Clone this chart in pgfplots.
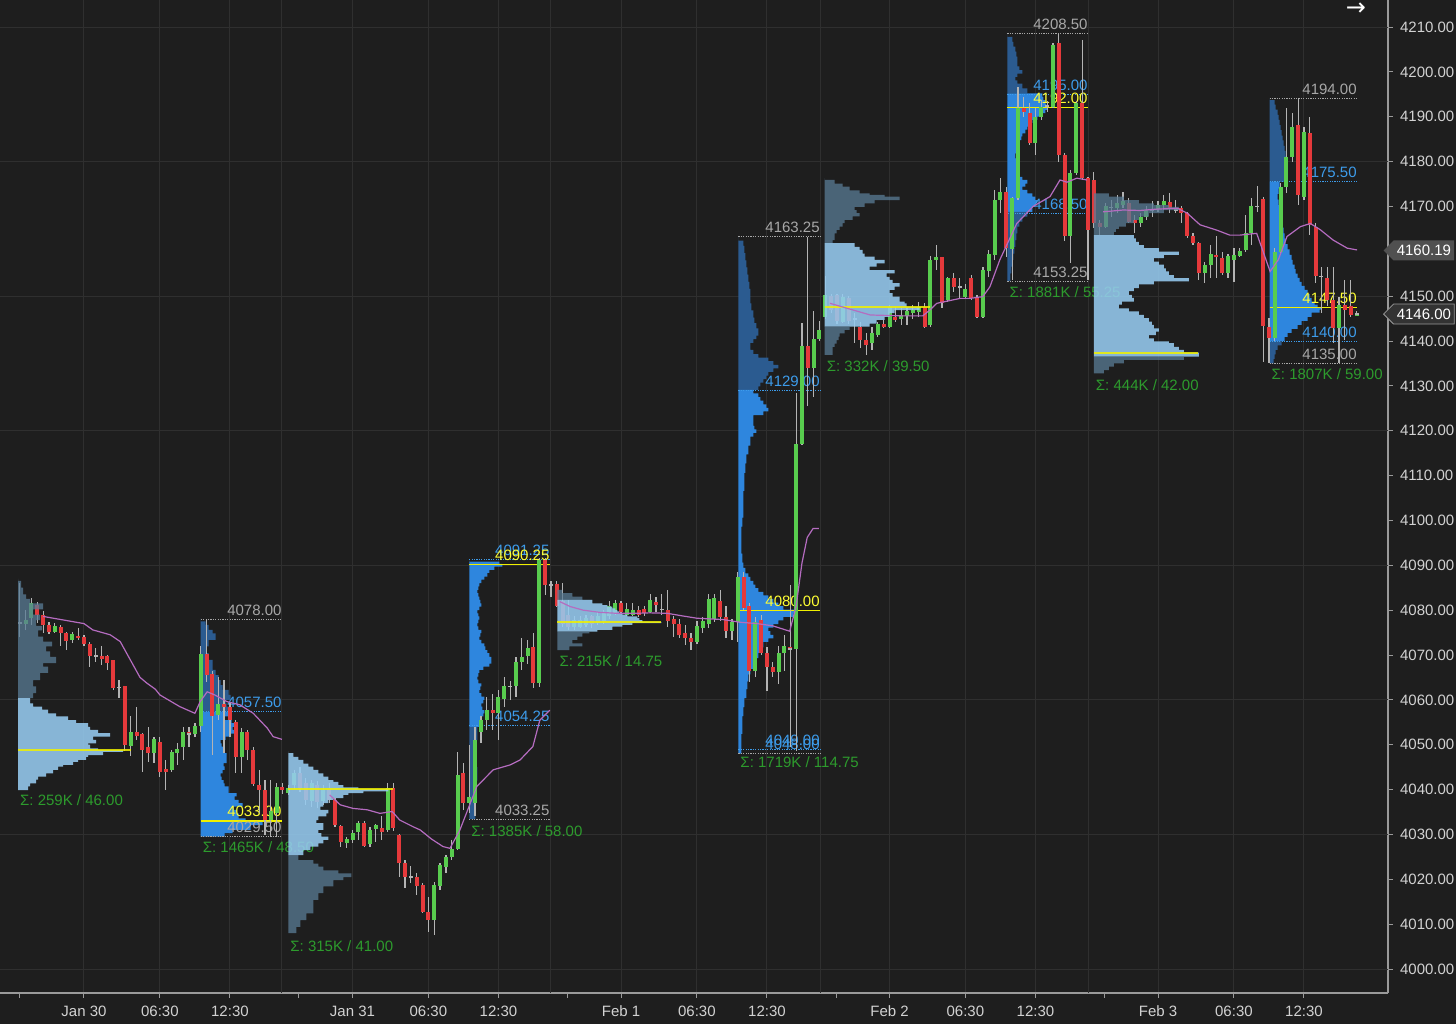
\documentclass[border=0pt]{standalone}
\usepackage{fontspec}
\setmainfont{Liberation Sans}
\newfontfamily\djv{DejaVu Sans}
\usepackage{pgfplots}
\pgfplotsset{compat=1.18}
\usepackage{pgfplotstable}
\usetikzlibrary{shapes.symbols}

\definecolor{bg}{HTML}{1E1E1E}
\definecolor{gridc}{HTML}{2F2F2F}
\definecolor{axisc}{HTML}{9A9A9A}
\definecolor{tickl}{HTML}{D2D2D2}
\definecolor{upc}{HTML}{58CC4E}
\definecolor{dnc}{HTML}{E5393B}
\definecolor{wickc}{HTML}{B4B4B4}
\definecolor{vwapc}{HTML}{B56CC0}
\definecolor{ethlight}{HTML}{96CBF0}
\definecolor{ethgray}{HTML}{5A7C96}
\definecolor{rthb}{HTML}{2E86DE}
\definecolor{rthd}{HTML}{2B5B90}
\definecolor{pocc}{HTML}{F0F000}
\definecolor{labblue}{HTML}{3D9CEB}
\definecolor{labgray}{HTML}{A8A8A8}
\definecolor{labyel}{HTML}{FFFF33}
\definecolor{sigc}{HTML}{2D9B2D}
\definecolor{mk1}{HTML}{505050}
\definecolor{mk2}{HTML}{333333}

\newcommand{\lab}{\fontsize{7.5}{9}\selectfont}
\newcommand{\prof}[3]{\addplot[#2] table[row sep=\\, x expr={#1+\thisrow{w}/5.837}, y=p] {p w\\ #3};}
\newcommand{\rlab}[4]{\node[anchor=base east, inner sep=0pt, yshift=2pt, text=#3, font=\lab] at (axis cs:#1,#2) {#4};}
\newcommand{\hl}[4]{\addplot[#4, line width=0.5pt, dash pattern=on 0.6pt off 0.6pt, forget plot] coordinates {(#1,#3) (#2,#3)};}
\newcommand{\slab}[3]{\node[anchor=west, inner sep=0pt, text=sigc, font=\lab] at (axis cs:#1,#2) {#3};}

\pgfplotsset{
  ethL/.style={fill=ethlight, fill opacity=0.88, draw=none, const plot mark left, forget plot},
  ethG/.style={fill=ethgray, fill opacity=0.75, draw=none, const plot mark left, forget plot},
  rthB/.style={fill=rthb, draw=none, const plot mark left, forget plot},
  rthD/.style={fill=rthd, draw=none, const plot mark left, forget plot},
}

\pgfplotstableread{
x o h l c
-11 4077.2 4086 4074 4077.2
-10 4076.9 4080 4075.6 4077.8
-9 4078.2 4082.6 4076.7 4081.5
-8 4081.2 4081.9 4077.1 4079.0
-7 4079.0 4079.7 4074.8 4076.7
-6 4076.8 4077.4 4074.7 4075.2
-5 4075.2 4077.1 4074.8 4076.5
-4 4076.3 4076.7 4071.9 4074.8
-3 4074.8 4075.2 4071.1 4073.2
-2 4073.4 4075.2 4072.6 4074.6
-1 4074.3 4076.0 4073.4 4073.7
0 4074.1 4074.5 4071.9 4072.5
1 4072.5 4072.8 4067.4 4069.8
2 4069.8 4071.5 4068.5 4069.8
3 4069.8 4071.9 4067.8 4069.0
4 4069.8 4070.0 4066.7 4068.3
5 4068.8 4068.9 4062.3 4062.6
6 4062.8 4064.4 4060.4 4062.8
7 4063.0 4063.2 4048.5 4050.0
8 4049.8 4056.3 4047.4 4052.9
9 4052.9 4058.5 4051.1 4052.0
10 4052.4 4052.6 4044.0 4048.8
11 4049.4 4054.0 4046.2 4048.1
12 4048.1 4051.8 4045.9 4051.2
13 4050.7 4051.8 4042.9 4044.0
14 4044.5 4046.6 4039.9 4044.0
15 4044.4 4048.8 4044.0 4048.3
16 4048.1 4050.3 4045.5 4049.0
17 4049.6 4054.0 4046.6 4052.9
18 4052.9 4054.0 4049.6 4052.5
19 4052.5 4054.8 4051.8 4054.2
20 4054.2 4071.9 4052.9 4070.2
21 4070.2 4078.0 4064.0 4065.5
22 4065.8 4066.5 4047.7 4056.3
23 4056.6 4065.2 4055.5 4059.1
24 4059.1 4064.4 4048.1 4058.3
25 4058.3 4059.2 4051.8 4055.4
26 4055.0 4055.5 4043.6 4047.3
27 4047.3 4053.7 4043.6 4052.9
28 4052.9 4053.3 4046.6 4048.8
29 4048.8 4049.6 4040.7 4041.2
30 4041.0 4044.4 4034.7 4039.8
31 4039.8 4042.1 4029.9 4033.2
32 4033.2 4042.1 4029.5 4035.2
33 4034.7 4041.4 4029.5 4040.5
34 4040.5 4041.4 4039.1 4039.9
35 4039.3 4041.0 4038.8 4040.3
36 4041.0 4044.3 4040.2 4043.6
37 4043.6 4045.0 4039.5 4040.3
38 4041.4 4042.5 4036.5 4037.7
39 4037.5 4042.2 4036.2 4041.4
40 4041.0 4042.0 4036.0 4037.3
41 4037.5 4041.0 4036.5 4039.9
42 4040.3 4041.5 4037.0 4037.7
43 4037.7 4038.1 4031.7 4032.1
44 4031.9 4032.1 4027.3 4028.4
45 4028.1 4029.5 4026.9 4028.9
46 4028.8 4031.0 4028.0 4030.3
47 4030.6 4032.9 4028.8 4032.5
48 4032.5 4032.9 4027.3 4027.4
49 4027.9 4031.7 4027.3 4031.1
50 4031.1 4032.3 4028.4 4032.1
51 4031.4 4034.0 4028.8 4030.6
52 4031.0 4041.5 4030.6 4040.3
53 4040.3 4041.5 4030.8 4031.4
54 4029.9 4030.0 4020.6 4023.6
55 4023.6 4024.3 4018.0 4020.6
56 4020.6 4022.9 4019.1 4020.6
57 4020.6 4021.3 4016.5 4018.4
58 4018.7 4019.1 4012.4 4012.8
59 4012.8 4016.1 4008.3 4010.9
60 4010.9 4019.5 4007.6 4018.7
61 4018.5 4023.6 4017.6 4023.2
62 4022.8 4025.4 4021.3 4024.9
63 4025.0 4028.8 4024.3 4026.7
64 4026.7 4048.4 4026.5 4043.3
65 4043.6 4045.9 4035.5 4037.0
66 4037.0 4050.0 4034.7 4038.3
67 4037.0 4054.0 4034.0 4051.0
68 4052.9 4056.3 4050.3 4055.5
69 4055.5 4060.7 4053.3 4057.7
70 4057.7 4061.4 4053.3 4057.0
71 4057.0 4062.2 4051.0 4060.7
72 4060.3 4065.2 4058.5 4063.0
73 4063.0 4064.1 4060.0 4063.0
74 4063.0 4069.6 4060.7 4068.5
75 4068.5 4073.7 4066.7 4069.6
76 4069.8 4073.3 4068.1 4071.5
77 4071.7 4074.8 4062.6 4063.7
78 4063.7 4091.6 4062.9 4091.2
79 4091.2 4091.6 4083.4 4085.6
80 4085.6 4086.4 4083.0 4085.6
81 4085.8 4086.4 4080.8 4080.9
82 4082.0 4086.0 4076.3 4077.0
83 4079.0 4082.3 4075.6 4076.3
84 4076.3 4078.6 4075.6 4077.8
85 4076.3 4078.6 4076.0 4077.8
86 4076.8 4079.0 4076.3 4078.2
87 4078.6 4079.0 4076.0 4077.0
88 4077.1 4079.5 4076.8 4078.8
89 4077.5 4080.0 4077.0 4079.5
90 4078.6 4082.0 4078.0 4081.0
91 4079.3 4082.3 4079.0 4081.5
92 4081.5 4082.0 4079.3 4079.6
93 4079.0 4081.5 4078.6 4080.3
94 4079.0 4081.5 4078.6 4080.0
95 4080.0 4081.0 4078.5 4079.0
96 4080.3 4081.0 4078.8 4079.3
97 4079.6 4083.5 4079.3 4082.3
98 4081.8 4083.0 4079.5 4081.2
99 4080.2 4083.6 4079.0 4080.2
100 4080.0 4084.5 4076.3 4077.5
101 4078.0 4078.6 4074.1 4077.0
102 4077.0 4078.0 4073.7 4074.5
103 4075.0 4076.7 4072.2 4073.7
104 4073.7 4074.8 4071.1 4073.0
105 4073.0 4077.5 4072.5 4076.5
106 4076.1 4078.5 4075.0 4077.5
107 4076.9 4083.7 4076.1 4082.5
108 4078.0 4083.7 4077.3 4082.8
109 4082.1 4084.5 4077.5 4078.5
110 4078.5 4080.9 4073.7 4075.3
111 4075.3 4078.0 4073.3 4077.3
112 4077.3 4088.6 4072.9 4087.4
113 4087.4 4088.6 4080.1 4080.5
114 4080.9 4081.7 4064.0 4066.5
115 4066.5 4078.5 4065.0 4077.3
116 4077.7 4078.9 4070.1 4070.5
117 4070.5 4071.7 4062.0 4067.3
118 4067.3 4068.5 4065.0 4066.1
119 4066.1 4072.1 4063.6 4070.5
120 4070.5 4074.5 4066.5 4072.1
121 4071.8 4085.7 4049.6 4071.4
122 4071.4 4128.3 4048.5 4117.1
123 4117.1 4144.0 4116.8 4138.8
124 4138.8 4163.25 4125.5 4133.9
125 4133.9 4146.8 4127.5 4140.4
126 4140.4 4144.4 4140.0 4142.4
127 4145.4 4154.5 4145.0 4150.2
128 4150.0 4150.5 4146.2 4147.0
129 4150.2 4150.5 4143.9 4144.5
130 4144.3 4150.5 4144.0 4149.9
131 4149.5 4150.0 4143.9 4144.5
132 4145.0 4146.2 4139.5 4145.0
133 4143.2 4144.3 4138.4 4140.2
134 4140.2 4141.7 4136.9 4139.1
135 4139.5 4143.2 4138.0 4141.7
136 4141.3 4144.3 4141.0 4143.8
137 4143.8 4144.7 4142.8 4143.2
138 4143.2 4148.0 4142.8 4147.6
139 4145.4 4147.6 4144.3 4144.7
140 4144.9 4147.3 4143.6 4145.8
141 4145.5 4147.3 4143.6 4146.6
142 4146.2 4148.0 4145.0 4147.0
143 4146.5 4148.8 4145.4 4147.6
144 4147.6 4148.4 4143.0 4143.2
145 4143.6 4158.9 4143.2 4158.0
146 4158.0 4161.4 4155.8 4158.7
147 4158.7 4158.8 4147.3 4148.4
148 4149.1 4154.3 4148.8 4154.0
149 4154.0 4155.1 4151.0 4152.1
150 4152.1 4154.0 4149.5 4152.1
151 4149.9 4152.8 4149.5 4151.7
152 4154.0 4154.7 4149.1 4149.5
153 4149.9 4150.3 4145.1 4145.4
154 4145.4 4156.6 4145.2 4155.8
155 4155.5 4160.3 4154.3 4159.5
156 4159.2 4173.7 4158.1 4171.4
157 4171.4 4176.3 4168.5 4173.3
158 4173.3 4174.4 4158.8 4160.7
159 4160.4 4172.2 4153.6 4171.8
160 4171.8 4196.7 4171.4 4191.9
161 4192.0 4194.5 4190.0 4191.1
162 4190.9 4193.0 4183.7 4184.1
163 4184.1 4191.9 4181.5 4190.0
164 4190.0 4193.7 4189.3 4192.1
165 4192.1 4193.5 4191.0 4192.5
166 4192.2 4206.4 4191.9 4206.0
167 4206.4 4208.5 4180.0 4181.5
168 4181.5 4181.8 4162.2 4163.3
169 4163.3 4178.1 4157.3 4177.4
170 4177.4 4193.4 4177.0 4193.0
171 4193.0 4207.1 4175.9 4176.3
172 4176.3 4176.6 4153.6 4164.8
173 4176.0 4177.7 4165.1 4166.2
174 4166.2 4167.0 4163.6 4165.5
175 4165.5 4170.7 4165.1 4170.1
176 4169.8 4171.4 4167.7 4169.8
177 4169.6 4172.5 4168.5 4170.7
178 4170.3 4173.3 4169.6 4171.1
179 4170.7 4171.8 4166.2 4166.6
180 4167.0 4168.1 4164.0 4166.2
181 4166.2 4168.5 4165.5 4167.7
182 4167.7 4170.0 4167.0 4169.3
183 4169.2 4171.1 4167.7 4169.2
184 4169.4 4171.1 4168.8 4170.3
185 4170.3 4172.5 4169.2 4171.1
186 4170.9 4173.1 4168.6 4169.6
187 4169.3 4171.4 4168.5 4169.3
188 4169.6 4170.0 4166.2 4168.6
189 4168.6 4168.8 4162.9 4163.3
190 4163.3 4164.0 4161.4 4161.8
191 4161.9 4162.1 4153.6 4155.1
192 4155.1 4157.7 4152.9 4156.9
193 4156.9 4161.4 4154.0 4159.5
194 4159.2 4163.3 4154.0 4158.7
195 4158.4 4159.9 4154.7 4155.1
196 4155.1 4159.5 4154.0 4158.9
197 4158.1 4160.7 4153.2 4159.2
198 4159.0 4160.7 4158.8 4160.1
199 4160.3 4168.1 4159.9 4164.0
200 4164.0 4171.8 4161.4 4170.0
201 4170.0 4174.6 4168.8 4170.0
202 4171.6 4172.2 4135.4 4143.4
203 4143.2 4145.1 4135.0 4140.6
204 4140.6 4160.7 4139.9 4159.9
205 4159.9 4175.2 4159.2 4174.4
206 4174.3 4191.9 4172.9 4181.0
207 4181.0 4190.8 4180.0 4187.8
208 4188.2 4194.1 4170.3 4172.6
209 4172.2 4187.8 4171.4 4186.7
210 4186.3 4190.0 4163.6 4165.9
211 4165.5 4166.2 4152.9 4154.4
212 4154.4 4156.6 4146.2 4154.4
213 4154.0 4156.6 4147.7 4149.2
214 4149.2 4156.6 4139.5 4142.8
215 4142.8 4149.9 4135.0 4148.0
216 4148.0 4153.6 4140.2 4147.0
217 4147.8 4153.6 4145.4 4145.8
218 4145.8 4146.6 4145.5 4146.0
}\candles

\begin{document}
\begin{tikzpicture}
\useasboundingbox (0,0) rectangle (728pt,512pt);
\fill[bg] (0,0) rectangle (728pt,512pt);
\begin{axis}[
  at={(0pt,15.5pt)}, anchor=south west,
  width=694pt, height=496.5pt, scale only axis,
  xmin=-14.39, xmax=223.4, ymin=3994.65, ymax=4216.02,
  axis x line*=bottom, axis y line*=right,
  axis line style={draw=axisc, line width=0.6pt},
  clip=false,
  xtick={0,13,25,46,59,71,92,105,117,138,151,163,184,197,209},
  xticklabels={Jan 30,06:30,12:30,Jan 31,06:30,12:30,Feb 1,06:30,12:30,Feb 2,06:30,12:30,Feb 3,06:30,12:30},
  minor xtick={-11.1,36.8,82.9,128.9,174.9},
  ytick={4000,4010,4020,4030,4040,4050,4060,4070,4080,4090,4100,4110,4120,4130,4140,4150,4170,4180,4190,4200,4210},
  extra y ticks={4000,4030,...,4210},
  extra y tick labels={},
  extra y tick style={grid=major, major tick length=0pt},
  xmajorgrids,
  grid style={draw=gridc, line width=0.5pt},
  tick align=outside,
  major tick length=2.5pt, minor tick length=2.5pt,
  tick style={draw=axisc, line width=0.5pt},
  tick label style={font=\lab, text=tickl},
  /pgf/number format/assume math mode=true,
  /pgf/number format/1000 sep={},
  yticklabel style={/pgf/number format/.cd, fixed, fixed zerofill, precision=2, 1000 sep={}, assume math mode=true},
  xticklabel style={yshift=-0.5pt},
]
% session separators
\addplot[gridc, line width=0.5pt, forget plot] coordinates {(33.75,3994.65) (33.75,4216)};
\addplot[gridc, line width=0.5pt, forget plot] coordinates {(80.0,3994.65) (80.0,4216)};
\addplot[gridc, line width=0.5pt, forget plot] coordinates {(126.1,3994.65) (126.1,4216)};
\addplot[gridc, line width=0.5pt, forget plot] coordinates {(172.1,3994.65) (172.1,4216)};

% ===== RTH profiles =====
% P2 Jan 30
\prof{20.0}{rthD}{4057.4 0\\4057.4 28\\4058.5 30\\4059.2 26\\4060.0 25\\4061.1 30\\4062.2 28\\4063.3 22\\4064.4 20\\4065.5 18\\4066.7 15\\4067.8 12\\4068.9 12\\4070.4 8\\4071.9 6\\4073.4 8\\4074.8 15\\4075.6 12\\4076.7 8\\4077.5 5\\4078.2 0\\}
\prof{20.0}{rthB}{4029.5 0\\4029.5 10\\4030.3 24\\4031.0 32\\4032.1 50\\4033.0 62\\4033.6 45\\4034.7 38\\4035.5 36\\4036.2 33\\4037.0 42\\4037.7 38\\4038.5 34\\4039.2 36\\4040.0 28\\4040.7 28\\4041.4 24\\4042.1 23\\4042.9 21\\4043.6 20\\4044.4 22\\4045.2 24\\4045.9 23\\4047.0 26\\4048.1 26\\4048.8 23\\4049.6 23\\4050.3 21\\4051.1 20\\4051.8 25\\4052.5 30\\4053.3 34\\4054.0 32\\4054.8 36\\4055.5 31\\4056.3 24\\4057.4 28\\4057.4 0\\}
% P4 Jan 31
\prof{66.0}{rthB}{4054.0 0\\4054.0 8\\4054.8 10\\4055.5 12\\4056.3 12\\4057.0 14\\4057.7 15\\4058.5 13\\4059.2 12\\4060.0 14\\4060.7 15\\4061.5 12\\4062.2 10\\4063.0 11\\4063.7 12\\4064.5 9\\4065.2 8\\4066.0 9\\4066.7 10\\4067.4 14\\4068.1 20\\4068.9 22\\4069.6 22\\4070.4 20\\4071.1 18\\4071.9 16\\4072.6 15\\4073.4 12\\4074.1 10\\4074.9 11\\4075.6 12\\4076.4 9\\4077.1 8\\4077.9 9\\4078.6 10\\4079.3 9\\4080.0 8\\4080.8 10\\4081.5 12\\4082.3 11\\4083.0 10\\4083.8 9\\4084.5 8\\4085.3 9\\4086.0 10\\4086.8 12\\4087.5 15\\4088.3 18\\4089.0 20\\4089.7 25\\4090.3 33\\4090.8 30\\4091.3 0\\}
\prof{66.0}{rthD}{4033.4 0\\4033.4 3\\4036.0 6\\4039.0 5\\4042.0 7\\4045.0 8\\4048.0 5\\4051.0 6\\4054.0 8\\4054.0 0\\}
% P6 Feb 1
\prof{112.1}{rthD}{4129.1 0\\4129.1 15\\4129.9 20\\4130.7 22\\4131.5 25\\4132.3 28\\4133.1 30\\4133.9 35\\4134.7 40\\4135.5 35\\4136.3 30\\4137.1 20\\4138.0 15\\4138.8 12\\4139.6 12\\4140.4 15\\4141.2 18\\4142.0 20\\4142.8 20\\4144.0 18\\4145.2 16\\4146.8 15\\4148.4 13\\4150.0 12\\4151.6 12\\4153.2 11\\4154.8 10\\4156.4 9\\4158.0 8\\4159.6 7\\4161.2 6\\4162.4 5\\4163.25 0\\}
\prof{112.1}{rthB}{4048.0 0\\4048.0 2\\4050.4 3\\4052.4 3\\4054.4 4\\4056.4 4\\4058.4 5\\4060.4 6\\4062.4 8\\4064.1 9\\4065.7 10\\4066.9 12\\4068.1 15\\4069.3 17\\4070.5 20\\4071.7 22\\4072.9 25\\4073.7 30\\4074.5 35\\4075.3 32\\4076.1 30\\4076.9 35\\4077.7 40\\4078.5 45\\4079.3 55\\4080.1 58\\4080.9 45\\4081.7 40\\4082.5 35\\4083.3 30\\4084.1 25\\4084.9 20\\4085.7 17\\4086.5 15\\4087.4 12\\4088.2 10\\4089.4 7\\4090.6 5\\4092.6 4\\4094.6 3\\4096.6 3\\4098.6 3\\4100.6 4\\4102.6 5\\4104.6 5\\4106.6 5\\4108.6 6\\4110.6 6\\4112.7 7\\4114.7 8\\4116.7 10\\4118.7 12\\4119.5 15\\4120.3 18\\4121.1 16\\4121.9 15\\4122.7 15\\4123.5 15\\4124.3 25\\4125.1 30\\4125.9 28\\4126.7 25\\4127.5 22\\4128.3 20\\4129.1 15\\4129.1 0\\}
% P8 Feb 2
\prof{158.2}{rthD}{4195.2 0\\4195.2 15\\4196.3 20\\4197.4 15\\4198.1 10\\4198.9 8\\4199.6 10\\4200.4 15\\4201.2 12\\4202.3 10\\4203.4 10\\4204.5 9\\4205.6 8\\4206.7 6\\4207.8 5\\4208.7 0\\}
\prof{158.2}{rthB}{4168.8 0\\4168.8 20\\4169.9 25\\4170.7 28\\4171.4 30\\4172.2 28\\4172.9 25\\4173.7 20\\4174.4 15\\4175.1 18\\4175.9 20\\4176.6 15\\4177.4 12\\4178.5 11\\4179.6 10\\4180.7 9\\4181.8 8\\4182.6 9\\4183.3 10\\4184.1 11\\4184.8 12\\4185.6 14\\4186.3 15\\4187.1 18\\4187.8 20\\4188.6 22\\4189.3 25\\4190.0 30\\4190.8 35\\4191.5 38\\4192.2 40\\4192.9 39\\4193.7 38\\4194.4 36\\4195.2 35\\4195.2 0\\}
\prof{158.2}{rthD}{4153.4 0\\4153.4 2\\4155.1 3\\4156.6 4\\4158.1 5\\4159.5 6\\4161.0 7\\4162.5 8\\4164.0 9\\4165.5 10\\4166.6 12\\4167.7 15\\4168.8 20\\4168.8 0\\}
% P10 Feb 3
\prof{203.1}{rthD}{4175.5 0\\4175.5 15\\4176.6 16\\4177.8 17\\4179.0 18\\4180.1 18\\4181.2 17\\4182.4 16\\4183.5 15\\4184.7 14\\4185.8 13\\4187.0 12\\4188.1 11\\4189.3 10\\4190.4 9\\4191.6 8\\4192.7 6\\4193.7 5\\4194.1 0\\}
\prof{203.1}{rthB}{4140.0 0\\4140.0 12\\4140.9 15\\4141.8 18\\4142.7 22\\4143.6 28\\4144.5 32\\4145.4 38\\4146.3 42\\4147.0 50\\4147.5 52\\4148.1 48\\4148.8 45\\4149.6 42\\4150.5 40\\4151.4 38\\4152.3 35\\4153.2 32\\4154.1 30\\4155.0 28\\4156.0 26\\4157.0 25\\4158.1 23\\4159.2 22\\4160.4 20\\4161.6 18\\4162.8 16\\4164.0 15\\4165.3 14\\4166.5 13\\4167.8 12\\4169.0 11\\4170.3 10\\4171.5 9\\4172.8 8\\4174.0 9\\4175.5 10\\4175.5 0\\}
\prof{203.1}{rthD}{4135.0 0\\4135.0 2\\4136.0 4\\4137.0 5\\4138.0 6\\4139.0 8\\4140.0 12\\4140.0 0\\}

% RTH level lines
\hl{20.0}{33.9}{4078}{labgray}
\hl{20.0}{33.9}{4057.5}{labblue}
\hl{20.0}{33.9}{4029.5}{labgray}
\addplot[pocc, line width=0.6pt, forget plot] coordinates {(20.0,4033) (33.9,4033)};
\hl{66.0}{79.8}{4091.25}{labblue}
\hl{66.0}{79.8}{4054.25}{labblue}
\hl{66.0}{79.8}{4033.25}{labgray}
\addplot[pocc, line width=0.6pt, forget plot] coordinates {(66.0,4090.25) (79.8,4090.25)};
\hl{112.1}{126.1}{4163.25}{labgray}
\hl{112.1}{126.1}{4129}{labblue}
\hl{112.1}{126.1}{4049}{labblue}
\hl{112.1}{126.1}{4048}{labgray}
\addplot[pocc, line width=0.6pt, forget plot] coordinates {(112.1,4080) (126.1,4080)};
\hl{158.2}{172.0}{4208.5}{labgray}
\hl{158.2}{172.0}{4195}{labblue}
\hl{158.2}{172.0}{4168.5}{labblue}
\hl{158.2}{172.0}{4153.25}{labgray}
\addplot[pocc, line width=0.6pt, forget plot] coordinates {(158.2,4192) (172.0,4192)};
\hl{203.1}{218.1}{4194}{labgray}
\hl{203.1}{218.1}{4175.5}{labblue}
\hl{203.1}{218.1}{4140}{labblue}
\hl{203.1}{218.1}{4135}{labgray}
\addplot[pocc, line width=0.6pt, forget plot] coordinates {(203.1,4147.5) (218.1,4147.5)};

% RTH labels
\rlab{33.9}{4078}{labgray}{4078.00}
\rlab{33.9}{4057.5}{labblue}{4057.50}
\rlab{33.9}{4033}{labyel}{4033.00}
\rlab{33.9}{4029.5}{labgray}{4029.50}
\rlab{79.8}{4091.25}{labblue}{4091.25}
\rlab{79.8}{4090.25}{labyel}{4090.25}
\rlab{79.8}{4054.25}{labblue}{4054.25}
\rlab{79.8}{4033.25}{labgray}{4033.25}
\rlab{126.1}{4163.25}{labgray}{4163.25}
\rlab{126.1}{4129}{labblue}{4129.00}
\rlab{126.1}{4080}{labyel}{4080.00}
\rlab{126.1}{4049}{labblue}{4049.00}
\rlab{126.1}{4048}{labblue}{4048.00}
\rlab{172.0}{4208.5}{labgray}{4208.50}
\rlab{172.0}{4195}{labblue}{4195.00}
\rlab{172.0}{4192}{labyel}{4192.00}
\rlab{172.0}{4168.5}{labblue}{4168.50}
\rlab{172.0}{4153.25}{labgray}{4153.25}
\rlab{218.1}{4194}{labgray}{4194.00}
\rlab{218.1}{4175.5}{labblue}{4175.50}
\rlab{218.1}{4147.5}{labyel}{4147.50}
\rlab{218.1}{4140}{labblue}{4140.00}
\rlab{218.1}{4135}{labgray}{4135.00}
\slab{20.3}{4027.2}{Σ: 1465K / 48.50}
\slab{66.3}{4030.8}{Σ: 1385K / 58.00}
\slab{112.4}{4046.2}{Σ: 1719K / 114.75}
\slab{158.5}{4150.9}{Σ: 1881K / 55.25}
\slab{203.4}{4132.6}{Σ: 1807K / 59.00}

% ===== candles =====
\addplot[draw=none, mark=none, forget plot, error bars/.cd, y dir=both, y explicit, error mark=none, error bar style={draw=wickc, line width=0.6pt, solid}]
  table[x=x, y expr={0.5*(\thisrow{h}+\thisrow{l})}, y error expr={0.5*(\thisrow{h}-\thisrow{l})}] {\candles};
\addplot[draw=none, mark=none, forget plot, error bars/.cd, y dir=both, y explicit, error mark=none, error bar style={draw=upc, line width=2pt, solid}]
  table[x=x, y expr={\thisrow{c}>\thisrow{o} ? 0.5*(\thisrow{o}+\thisrow{c}) : nan}, y error expr={max(0.5*abs(\thisrow{c}-\thisrow{o}),0.12)}] {\candles};
\addplot[draw=none, mark=none, forget plot, error bars/.cd, y dir=both, y explicit, error mark=none, error bar style={draw=dnc, line width=2pt, solid}]
  table[x=x, y expr={\thisrow{c}<\thisrow{o} ? 0.5*(\thisrow{o}+\thisrow{c}) : nan}, y error expr={max(0.5*abs(\thisrow{c}-\thisrow{o}),0.12)}] {\candles};
\addplot[draw=none, mark=none, forget plot, error bars/.cd, y dir=both, y explicit, error mark=none, error bar style={draw=wickc, line width=2pt, solid}]
  table[x=x, y expr={\thisrow{c}==\thisrow{o} ? \thisrow{c} : nan}, y error expr={0.15}] {\candles};

% ===== ETH profiles =====
% P1 Jan 30 ETH
\prof{-11.3}{ethG}{4060.4 0\\4060.4 12\\4061.5 15\\4063.0 18\\4064.4 15\\4066.0 22\\4067.4 30\\4068.2 25\\4069.6 38\\4070.8 32\\4071.9 28\\4073.0 34\\4074.1 25\\4075.5 20\\4076.5 24\\4077.8 18\\4079.0 22\\4080.2 15\\4081.5 25\\4082.5 12\\4083.5 8\\4085.0 5\\4086.5 3\\4087.0 0\\}
\prof{-11.3}{ethL}{4039.9 0\\4039.9 6\\4040.7 10\\4041.4 12\\4042.2 18\\4042.9 20\\4043.6 28\\4044.4 35\\4045.1 40\\4045.5 45\\4046.2 55\\4046.6 60\\4047.3 68\\4047.7 70\\4048.4 85\\4048.8 105\\4049.2 80\\4050.0 72\\4050.3 70\\4051.1 78\\4051.8 75\\4052.6 92\\4053.3 80\\4054.0 72\\4054.8 70\\4055.5 58\\4056.3 50\\4057.0 38\\4057.8 30\\4058.5 24\\4059.2 15\\4060.4 12\\4060.4 0\\}
% P3 Jan 31 ETH
\prof{35.0}{ethL}{4025.4 0\\4025.4 10\\4026.5 15\\4027.3 22\\4028.0 30\\4028.8 35\\4029.5 40\\4030.3 33\\4031.0 30\\4031.7 35\\4032.5 35\\4033.2 28\\4034.0 30\\4034.7 38\\4035.5 40\\4036.2 32\\4037.0 35\\4037.7 40\\4038.1 45\\4038.8 55\\4039.2 60\\4039.6 75\\4040.1 100\\4040.5 70\\4041.0 55\\4041.7 50\\4042.1 45\\4042.9 40\\4043.6 35\\4044.4 30\\4045.1 25\\4045.8 20\\4046.6 15\\4047.3 10\\4048.1 5\\4048.5 0\\}
\prof{35.0}{ethG}{4008.0 0\\4008.0 3\\4009.4 8\\4010.9 12\\4012.4 18\\4013.9 25\\4015.4 25\\4016.9 30\\4018.4 35\\4019.8 45\\4020.5 55\\4021.3 63\\4022.0 50\\4022.8 35\\4023.5 30\\4024.3 25\\4025.4 10\\4025.4 0\\}
% P5 Feb 1 ETH
\prof{81.1}{ethG}{4082.3 0\\4082.3 35\\4083.0 25\\4083.8 15\\4084.5 5\\4085.0 0\\}
\prof{81.1}{ethL}{4075.2 0\\4075.2 32\\4075.6 40\\4076.3 55\\4076.7 65\\4077.1 75\\4077.4 104\\4077.8 85\\4078.2 82\\4078.6 80\\4079.0 70\\4079.3 65\\4079.7 62\\4080.0 60\\4080.4 58\\4080.8 55\\4081.1 50\\4081.5 45\\4082.3 35\\4082.3 0\\}
\prof{81.1}{ethG}{4071.1 0\\4071.1 3\\4071.9 12\\4072.6 25\\4073.4 15\\4074.1 20\\4074.8 25\\4075.2 32\\4075.2 0\\}
% P7 Feb 2 ETH
\prof{126.9}{ethG}{4161.8 0\\4161.8 8\\4162.5 8\\4163.3 10\\4164.0 10\\4164.8 12\\4165.5 15\\4166.3 18\\4167.0 20\\4167.8 28\\4168.5 35\\4169.2 32\\4169.9 30\\4170.7 40\\4171.4 50\\4172.2 75\\4172.6 60\\4172.9 45\\4173.6 35\\4174.4 25\\4175.1 18\\4175.9 10\\4176.3 0\\}
\prof{126.9}{ethL}{4143.2 0\\4143.2 25\\4143.9 45\\4144.7 52\\4145.4 60\\4146.2 65\\4146.9 70\\4147.6 95\\4148.4 82\\4148.8 80\\4149.5 75\\4149.9 75\\4150.7 68\\4151.4 65\\4152.1 70\\4152.9 75\\4153.6 68\\4154.3 65\\4155.1 62\\4155.8 70\\4156.6 45\\4157.3 52\\4158.1 60\\4158.8 50\\4159.5 40\\4160.3 38\\4161.0 35\\4161.8 30\\4161.8 0\\}
\prof{126.9}{ethG}{4136.9 0\\4136.9 3\\4137.9 8\\4138.7 8\\4139.4 10\\4140.2 12\\4141.0 14\\4141.7 15\\4142.5 20\\4143.2 25\\4143.2 0\\}
% P9 Feb 3 ETH
\prof{173.0}{ethG}{4163.6 0\\4163.6 20\\4164.3 20\\4165.0 22\\4165.5 25\\4166.3 32\\4167.0 40\\4167.7 45\\4168.5 55\\4169.2 70\\4169.9 85\\4170.3 75\\4170.7 60\\4171.4 45\\4172.2 30\\4172.9 15\\4173.7 0\\}
\prof{173.0}{ethL}{4136.5 0\\4136.5 90\\4137.4 105\\4138.0 90\\4138.7 85\\4139.5 80\\4139.9 75\\4140.6 60\\4141.3 55\\4142.1 62\\4142.8 65\\4143.6 60\\4144.3 58\\4145.1 55\\4145.8 50\\4146.6 45\\4147.3 35\\4148.1 25\\4148.8 28\\4149.6 40\\4150.3 38\\4151.1 35\\4151.8 40\\4152.6 45\\4153.3 60\\4154.0 95\\4154.7 80\\4155.5 75\\4156.2 72\\4157.0 70\\4157.7 65\\4158.5 60\\4159.2 70\\4159.9 85\\4160.7 65\\4161.4 50\\4162.1 45\\4162.9 42\\4163.6 40\\4163.6 0\\}
\prof{173.0}{ethG}{4132.8 0\\4132.8 3\\4133.5 10\\4134.3 15\\4135.0 20\\4135.8 30\\4136.5 90\\4136.5 0\\}

% ETH POC lines
\addplot[pocc, opacity=0.85, line width=1pt, forget plot] coordinates {(-11.3,4048.8) (8.06,4048.8)};
\addplot[pocc, opacity=0.85, line width=1pt, forget plot] coordinates {(35.0,4040.1) (52.9,4040.1)};
\addplot[pocc, opacity=0.85, line width=1pt, forget plot] coordinates {(81.1,4077.4) (98.9,4077.4)};
\addplot[pocc, opacity=0.85, line width=1pt, forget plot] coordinates {(126.9,4147.6) (144.9,4147.6)};
\addplot[pocc, opacity=0.85, line width=1pt, forget plot] coordinates {(173.0,4137.4) (190.9,4137.4)};

% ETH labels
\slab{-11.0}{4037.7}{Σ: 259K / 46.00}
\slab{35.3}{4005.1}{Σ: 315K / 41.00}
\slab{81.4}{4068.7}{Σ: 215K / 14.75}
\slab{127.2}{4134.4}{Σ: 332K / 39.50}
\slab{173.3}{4130.2}{Σ: 444K / 42.00}

% ===== VWAP lines =====
\addplot[vwapc, line width=0.6pt, forget plot] coordinates {(-7,4078.6) (0,4077) (1.5,4075.6) (4.5,4074.5) (6.2,4073) (7.9,4069) (9.6,4065.0) (10.8,4063.7) (12.2,4062.4) (13,4061.1) (16.4,4058.5) (19,4057) (19.9,4059.6) (21.1,4061.8) (22.4,4061.1) (24.5,4059.6) (26.7,4058.9) (29,4057) (31.4,4053.7) (32.4,4051.8) (33.9,4051.2)};
\addplot[vwapc, line width=0.6pt, forget plot] coordinates {(42.1,4038.8) (43.9,4036.6) (46.1,4035.8) (48.5,4035.5) (50.7,4034.7) (52.8,4035.1) (54.1,4033.2) (56.4,4031.7) (57.6,4031.0) (59.5,4029) (61.5,4027.3) (62.7,4026.9) (64.4,4031) (67.3,4040.7) (70.1,4044.4) (73,4045.5) (74.7,4046.6) (76.9,4049.6) (78.1,4055.5) (79.8,4057.7)};
\addplot[vwapc, line width=0.6pt, forget plot] coordinates {(81.5,4081.9) (83.3,4080.8) (85.5,4080) (88.4,4079.5) (91.3,4079.3) (94.7,4079.3) (96.9,4079.4) (99.9,4079.3) (102.6,4078.7) (105,4078.2) (109.5,4077.9) (112.4,4077.3) (115.3,4077.0) (118,4076.5) (120.9,4075.3) (122,4080.9) (123,4090.5) (123.9,4096.2) (124.9,4098.2) (125.9,4098.2)};
\addplot[vwapc, line width=0.6pt, forget plot] coordinates {(127.8,4148.4) (134.7,4145.8) (140.3,4145.6) (143.7,4145.6) (144.9,4146.9) (146.1,4148.4) (150.1,4149.5) (151.8,4149.5) (154,4149.9) (155.2,4152.1) (156.9,4158.1) (159.8,4166.2) (162.6,4170) (165.5,4172.2) (167.2,4175.9) (168.4,4175.4) (170.1,4176.3) (171.8,4175.9)};
\addplot[vwapc, line width=0.6pt, forget plot] coordinates {(174.6,4168.8) (178,4169.2) (180.9,4169.1) (183.8,4169.4) (187.3,4169.6) (189,4168.5) (191.2,4165.9) (194.1,4164.7) (196.3,4163.6) (198,4163.6) (200.9,4164) (203.2,4155.5) (204.6,4158.1) (206.1,4163.3) (208.4,4165.5) (210.1,4166.2) (211.8,4164.8) (214,4162.5) (216.4,4160.7) (218.1,4160.3)};

% price markers
\node[signal, signal to=west, fill=mk1, text=white, font=\lab, inner sep=1.6pt, minimum height=10pt, minimum width=34pt, anchor=west, xshift=-2.5pt] at (axis cs:223.4,4160.19) {4160.19};
\node[signal, signal to=west, fill=mk2, draw=axisc, line width=0.4pt, text=white, font=\lab, inner sep=1.6pt, minimum height=10pt, minimum width=34pt, anchor=west, xshift=-2.5pt] at (axis cs:223.4,4146.0) {4146.00};
\node[font=\djv\fontsize{12}{12}\selectfont, text=white, inner sep=0pt] at (axis cs:217.9,4214.0) {→};
\end{axis}
\end{tikzpicture}
\end{document}
